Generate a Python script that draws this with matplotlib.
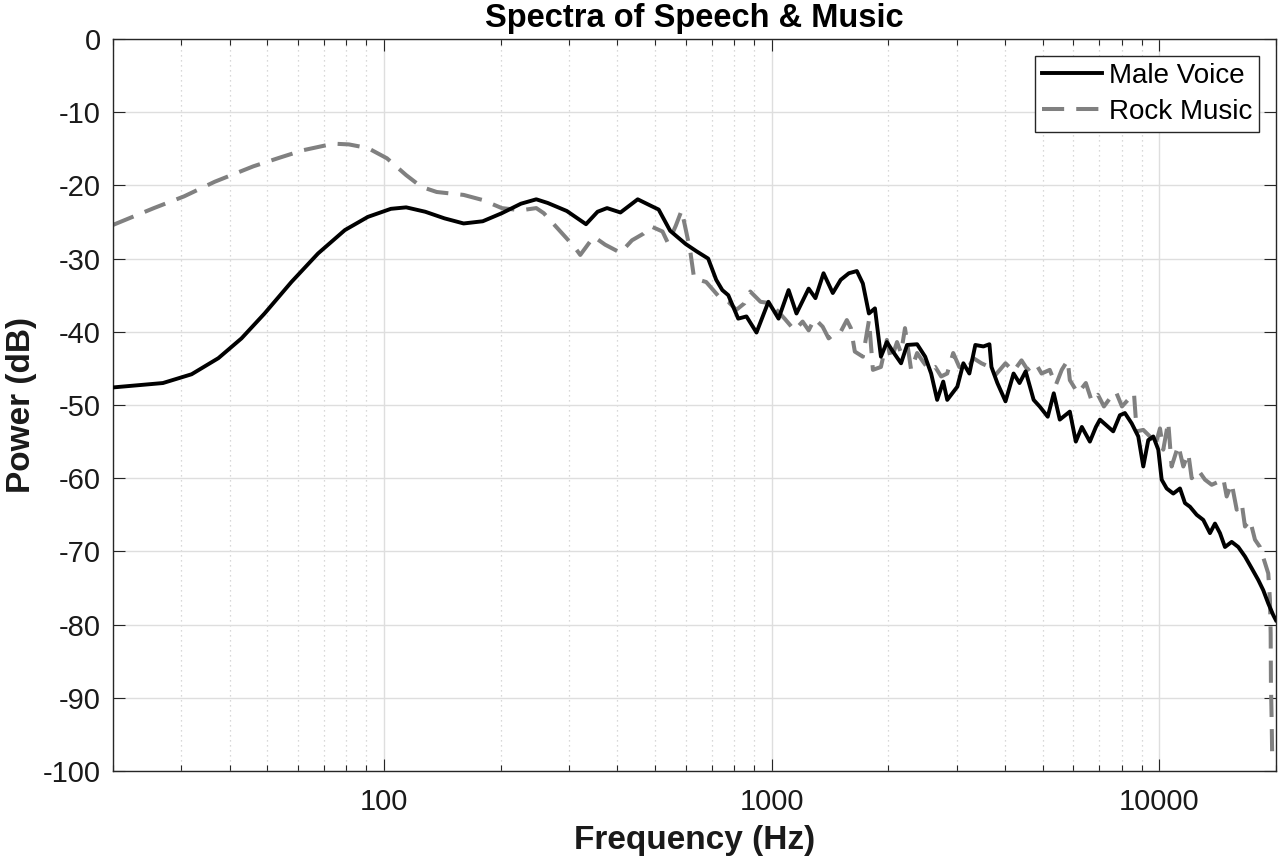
import matplotlib
matplotlib.use("Agg")
import matplotlib.pyplot as plt
from matplotlib.ticker import FixedLocator, LogLocator, NullFormatter

plt.rcParams['font.family'] = ['Liberation Sans', 'DejaVu Sans']
plt.rcParams['axes.unicode_minus'] = False

# ---- data ----
male_freq = [20, 26.9, 31.9, 37.4, 42.9, 49.2, 57.7, 67.6, 79.3, 90.9, 104.2, 114.1, 127.8,
             143.2, 160.5, 179.8, 201.3, 225.6, 247.1, 264.5, 296.3, 332, 355.6, 376.2, 407.4,
             451.4, 488.7, 511.2, 547.3, 600, 640, 686, 719.5, 746, 773, 820, 861, 914, 981,
             1042, 1106, 1159, 1246, 1297, 1361, 1438, 1507, 1582, 1659, 1719, 1782, 1847,
             1914, 1983, 2055, 2157, 2235, 2373, 2489, 2579, 2673, 2771, 2838, 3013, 3123,
             3236, 3353, 3518, 3646, 3690, 3822, 4011, 4208, 4360, 4521, 4741, 4913, 5155,
             5343, 5537, 5878, 6091, 6312, 6621, 6863, 7029, 7605, 7913, 8152, 8485, 8826,
             9092, 9366, 9649, 9940, 10142, 10448, 10866, 11307, 11647, 11998, 12486, 12985,
             13512, 13919, 14339, 14771, 15372, 15986, 16636, 17310, 17999, 18541, 19100,
             19676, 19990]
male_db = [-47.6, -47.0, -45.8, -43.6, -40.9, -37.5, -33.2, -29.3, -26.1, -24.3, -23.2, -23.0,
           -23.6, -24.5, -25.2, -24.9, -23.8, -22.5, -21.9, -22.4, -23.5, -25.3, -23.6, -23.1,
           -23.7, -21.9, -22.8, -23.3, -26.2, -28.0, -29.0, -30.0, -32.9, -34.3, -35.0, -38.2,
           -37.9, -40.1, -35.9, -38.2, -34.3, -37.5, -34.1, -35.4, -32.0, -34.7, -32.9, -32.0,
           -31.7, -33.4, -37.5, -36.8, -43.4, -41.4, -42.7, -44.3, -41.8, -41.7, -43.4, -45.7,
           -49.3, -46.8, -49.3, -47.5, -44.3, -45.7, -41.8, -42.0, -41.7, -44.8, -47.0, -49.5,
           -45.7, -47.0, -45.4, -49.3, -50.2, -51.6, -48.4, -52.0, -50.9, -55.0, -53.0, -55.0,
           -53.0, -52.0, -53.6, -51.4, -51.1, -52.5, -54.3, -58.4, -54.8, -54.3, -56.1, -60.2,
           -61.4, -62.1, -61.4, -63.4, -63.9, -65.0, -65.7, -67.5, -66.2, -67.5, -69.4, -68.7,
           -69.4, -70.7, -72.3, -73.9, -75.3, -77.1, -78.7, -79.4]

rock_freq = [20, 25.5, 30.5, 36.6, 46.0, 53.9, 61.8, 74.1, 81.2, 90.9, 101.8, 114.1, 124.9,
             136.8, 160.5, 179.8, 201.3, 225.6, 247.1, 258.4, 283.1, 309.9, 320.9, 347.6, 372,
             407.4, 436.3, 466.8, 488.7, 523, 540.5, 566, 586, 616, 631, 678, 737, 773, 811,
             851, 881, 936, 993, 1029, 1080, 1146, 1202, 1246, 1291, 1354, 1403, 1455, 1507,
             1563, 1601, 1639, 1719, 1760, 1783, 1825, 1914, 1983, 2032, 2106, 2157, 2208,
             2290, 2373, 2459, 2548, 2642, 2737, 2837, 2940, 3048, 3197, 3314, 3477, 3646,
             3778, 4011, 4205, 4411, 4574, 4796, 4970, 5217, 5406, 5602, 5804, 5878, 6166,
             6464, 6698, 6945, 7197, 7456, 7731, 8011, 8302, 8604, 8743, 9092, 9460, 9746,
             10040, 10238, 10545, 10759, 11195, 11532, 11879, 12122, 12606, 13117, 13649,
             14194, 14622, 14921, 15372, 15836, 16313, 16636, 17137, 17652, 18184, 18732,
             19100, 19294, 19375, 19406, 19490, 19557]
rock_db = [-25.4, -23.1, -21.5, -19.5, -17.4, -16.2, -15.2, -14.3, -14.4, -14.9, -16.3, -18.6,
           -20.2, -20.9, -21.3, -22.0, -23.1, -23.4, -23.1, -23.8, -26.1, -28.4, -29.5, -27.0,
           -28.1, -29.2, -27.5, -26.6, -25.6, -26.3, -27.9, -25.5, -23.4, -28.8, -32.7, -33.2,
           -35.4, -35.9, -37.0, -36.1, -34.5, -35.9, -36.1, -37.0, -38.2, -39.8, -38.6, -39.8,
           -38.2, -39.3, -40.9, -40.2, -40.0, -38.4, -39.5, -42.7, -43.4, -40.2, -38.4, -45.2,
           -44.8, -41.1, -43.9, -41.4, -42.9, -39.5, -45.2, -42.9, -44.1, -45.2, -44.8, -46.1,
           -45.7, -42.9, -44.8, -45.2, -43.6, -44.3, -44.8, -45.9, -44.3, -45.4, -43.9, -45.2,
           -44.3, -45.7, -45.2, -47.3, -45.2, -43.9, -46.6, -48.4, -47.0, -49.5, -48.6, -50.2,
           -49.1, -48.2, -50.2, -49.3, -48.4, -53.6, -53.4, -54.3, -55.7, -53.2, -56.1, -52.3,
           -58.4, -55.5, -58.4, -56.6, -60.0, -58.9, -60.2, -60.9, -60.5, -60.0, -62.5, -60.7,
           -64.3, -63.4, -66.6, -65.7, -68.4, -69.4, -71.6, -73.0, -76.6, -81.2, -88.0, -93.0,
           -98.3]

series_labels = ["Male Voice", "Rock Music"]
title_text = "Spectra of Speech & Music"
x_label = "Frequency (Hz)"
y_label = "Power (dB)"
x_ticks = [100, 1000, 10000]
x_ticklabels = ["100", "1000", "10000"]
y_ticks = list(range(-100, 1, 10))

# ---- figure ----
W, H = 1281, 861
fig = plt.figure(figsize=(W / 100, H / 100), dpi=100)
ax = fig.add_axes([113 / W, 1 - 771 / H, 1163 / W, 732 / H])

ax.semilogx(male_freq, male_db, color='black', lw=2.8, label=series_labels[0], zorder=3)
ax.semilogx(rock_freq, rock_db, color='#808080', lw=2.9, ls=(0, (5.5, 3)),
            label=series_labels[1], zorder=2)

ax.set_xlim(20, 20000)
ax.set_ylim(-100, 0)
ax.xaxis.set_major_locator(FixedLocator(x_ticks))
ax.set_xticklabels(x_ticklabels)
ax.xaxis.set_minor_locator(LogLocator(base=10, subs=range(2, 10), numticks=20))
ax.xaxis.set_minor_formatter(NullFormatter())
ax.set_yticks(y_ticks)
ax.set_yticklabels([str(v) for v in y_ticks])

ax.grid(True, which='major', color='#dedede', lw=1.0, ls='-')
ax.grid(True, which='minor', axis='x', color='#cccccc', lw=0.9, ls=(0, (1, 3)))
ax.set_axisbelow(True)

ax.tick_params(which='both', direction='in', top=True, right=True, colors='#262626',
               labelcolor='#1a1a1a', width=0.8)
ax.tick_params(which='major', length=8.4, labelsize=21)
ax.tick_params(axis='x', which='major', pad=12)
ax.tick_params(axis='y', which='major', pad=9)
ax.tick_params(which='minor', length=4.3)
for s in ax.spines.values():
    s.set_color('#262626')
    s.set_linewidth(1.0)

ax.set_title(title_text, fontsize=23.5, fontweight='bold', pad=9)
ax.set_xlabel(x_label, fontsize=24, fontweight='bold', labelpad=7, color='#1a1a1a')
ax.set_ylabel(y_label, fontsize=24, fontweight='bold', labelpad=4, color='#1a1a1a')

leg = ax.legend(loc='upper right', fontsize=20, frameon=True, fancybox=False,
                edgecolor='#262626', framealpha=1, borderaxespad=0.6, handlelength=2.15,
                handletextpad=0.25, labelspacing=0.38, borderpad=0.25)
leg.get_frame().set_linewidth(1.0)

fig.savefig("out.png", dpi=100)
